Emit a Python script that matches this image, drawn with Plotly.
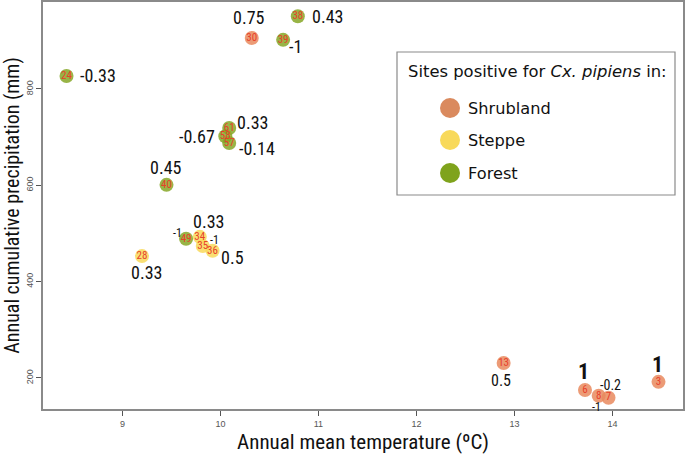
import plotly.graph_objects as go

# ---- data ----
site_ids = ["38", "30", "39", "24", "61", "58", "57", "40", "49", "34", "35", "36", "28", "13", "6", "8", "7", "3"]
temperature = [10.79, 10.32, 10.64, 8.43, 10.09, 10.05, 10.09, 9.45, 9.65, 9.79, 9.82, 9.92, 9.20, 12.89, 13.72, 13.86, 13.96, 14.47]
precipitation = [951, 906, 902, 827, 719, 702, 688, 601, 489, 493, 474, 464, 453, 231, 175, 163, 159, 192]
habitat = ["Forest", "Shrubland", "Forest", "Forest", "Forest", "Forest", "Forest", "Forest", "Forest",
           "Steppe", "Steppe", "Steppe", "Steppe", "Shrubland", "Shrubland", "Shrubland", "Shrubland", "Shrubland"]
correlation = ["0.43", "0.75", "-1", "-0.33", "0.33", "-0.67", "-0.14", "0.45", "-1", "0.33", "-1", "0.5", "0.33",
               "0.5", "1", "-1", "-0.2", "1"]
habitats = ["Shrubland", "Steppe", "Forest"]
x_ticks = [9, 10, 11, 12, 13, 14]
y_ticks = [200, 400, 600, 800]

# ---- styles ----
colors = {"Shrubland": "#DA8A5E", "Steppe": "#F8D95A", "Forest": "#7FA31C"}
point_colors = {"Shrubland": "#E98A5E", "Steppe": "#F8D95A", "Forest": "#86A726"}
# label offsets (px) relative to each point, and label font sizes
label_dx = [30, -3, 12, 31, 23, -28, 28, 0, -9, 9, 12, 20, 5, -3, -1, -2, 2, -1]
label_dy = [0, 20, -7, 0, 6, 0, -6, 17, 6, 15, 6, -7, -16, -17, 19, -11, 13, 17]
label_size = [18, 18, 18, 18, 18, 18, 18, 18, 12, 18, 12, 18, 18, 16, 22, 12, 14, 22]
label_bold = [False] * 14 + [True, False, False, True]

FONT = "Liberation Sans Narrow, Roboto Condensed, DejaVu Sans Condensed, Roboto, sans-serif"
LEG_FONT = "DejaVu Sans, Verdana, sans-serif"

fig = go.Figure()
for h in habitats:
    idx = [i for i, v in enumerate(habitat) if v == h]
    fig.add_trace(go.Scatter(
        x=[temperature[i] for i in idx],
        y=[precipitation[i] for i in idx],
        mode="markers+text",
        text=[site_ids[i] for i in idx],
        textposition="middle center",
        textfont=dict(family=FONT, size=11, color="#E8402A"),
        marker=dict(size=14, color=point_colors[h], opacity=0.85, line=dict(width=0)),
        showlegend=False,
        hoverinfo="skip",
    ))

for i in range(len(site_ids)):
    txt = correlation[i]
    if label_bold[i]:
        txt = "<b>" + txt + "</b>"
    fig.add_annotation(x=temperature[i], y=precipitation[i], xref="x", yref="y",
                       xanchor="center", yanchor="middle",
                       text=txt, showarrow=False, xshift=label_dx[i], yshift=label_dy[i],
                       font=dict(family=FONT, size=label_size[i], color="#111111"))

# ---- manual legend ----
L, R, T, B = 43, 683, 2, 409
def px(x):
    return (x - L) / (R - L)
def py(y):
    return (B - y) / (B - T)

fig.add_shape(type="rect", xref="paper", yref="paper", x0=px(397), x1=px(675), y0=py(195), y1=py(52),
              line=dict(color="#8A8A8A", width=1.2), fillcolor="white")
fig.add_annotation(xref="paper", yref="paper", x=px(537), y=py(72), xanchor="center", yanchor="middle",
                   showarrow=False,
                   text="Sites positive for <i>Cx. pipiens</i> in:",
                   font=dict(family=LEG_FONT, size=16.4, color="#111111"))
leg_y = [108, 140, 173]
for h, yy in zip(habitats, leg_y):
    fig.add_shape(type="circle", xref="paper", yref="paper", xsizemode="pixel", ysizemode="pixel",
                  xanchor=px(450), yanchor=py(yy), x0=-10, x1=10, y0=-10, y1=10,
                  fillcolor=colors[h], line=dict(width=0))
    fig.add_annotation(xref="paper", yref="paper", x=px(466), y=py(yy), xanchor="left", yanchor="middle",
                       showarrow=False,
                       text=h, font=dict(family=LEG_FONT, size=16.2, color="#111111"))

axis_common = dict(showline=True, mirror=True, linecolor="#8A8A8A", linewidth=1.5, automargin=False,
                   showgrid=False, zeroline=False, ticks="outside", ticklen=5, tickcolor="#555",
                   tickfont=dict(family="Liberation Sans, Arial, sans-serif", size=9, color="#555"))
fig.update_xaxes(range=[8.19, 14.72], tickvals=x_ticks, ticktext=[str(v) for v in x_ticks],
                 title=dict(text="Annual mean temperature (ºC)", font=dict(family=FONT, size=21, color="#111"),
                            standoff=7),
                 **axis_common)
fig.update_yaxes(range=[135.6, 980.6], tickvals=y_ticks, ticktext=[str(v) for v in y_ticks], tickangle=-90,
                 title=dict(text="Annual cumulative precipitation (mm)", font=dict(family=FONT, size=20, color="#111"),
                            standoff=4),
                 **axis_common)

fig.update_layout(width=685, height=461, margin=dict(l=43, r=2, t=2, b=52),
                  plot_bgcolor="white", paper_bgcolor="white", showlegend=False)
fig.write_html("out.html", config={"displayModeBar": False},
               post_script="document.body.style.margin='0px';")
